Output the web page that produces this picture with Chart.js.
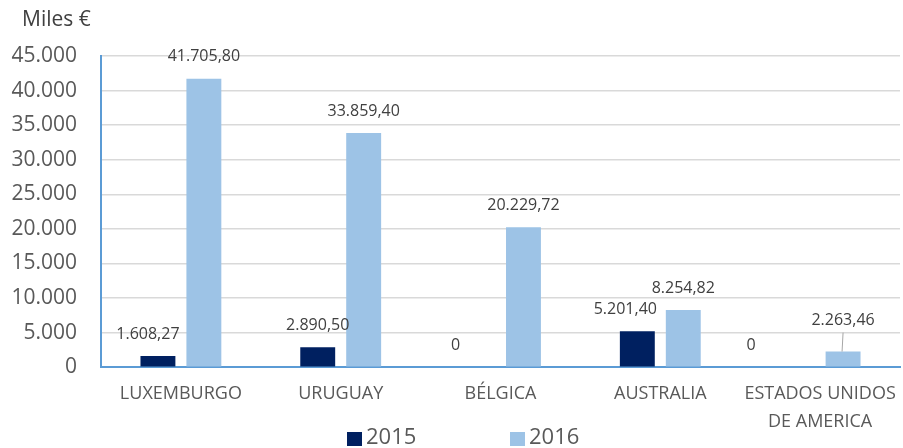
<!DOCTYPE html>
<html><head><meta charset="utf-8">
<script src="https://cdn.jsdelivr.net/npm/chart.js@4.4.1/dist/chart.umd.min.js"></script>
<style>html,body{margin:0;padding:0;background:#fff}#wrap{width:903px;height:448px}</style>
</head><body><div id="wrap"><canvas id="c" width="903" height="448"></canvas></div>
<script>
const categories = ['LUXEMBURGO', 'URUGUAY', 'BÉLGICA', 'AUSTRALIA', ['ESTADOS UNIDOS', 'DE AMERICA']];
const seriesNames = ['2015', '2016'];
const values2015 = [1608.27, 2890.50, 0, 5201.40, 0];
const values2016 = [41705.80, 33859.40, 20229.72, 8254.82, 2263.46];
const yTicks = [0, 5000, 10000, 15000, 20000, 25000, 30000, 35000, 40000, 45000];
const unitLabel = 'Miles €';

const FONT = 'Open Sans';
function fmtThousands(n){ return String(Math.round(n)).replace(/\B(?=(\d{3})+(?!\d))/g, '.'); }
function fmtValue(v){
  if (v === 0) return '0';
  const parts = v.toFixed(2).split('.');
  return parts[0].replace(/\B(?=(\d{3})+(?!\d))/g, '.') + ',' + parts[1];
}

const labelPlugin = {
  id: 'valueLabels',
  afterDatasetsDraw(chart, args, opts) {
    const ctx = chart.ctx;
    ctx.save();
    ctx.font = '16px "' + FONT + '"';
    ctx.fillStyle = '#404040';
    ctx.textAlign = 'center';
    ctx.textBaseline = 'middle';
    chart.data.datasets.forEach((ds, di) => {
      const meta = chart.getDatasetMeta(di);
      meta.data.forEach((el, i) => {
        const nudge = (opts.nudges[di] && opts.nudges[di][i]) || [0, 0];
        const x = el.x + nudge[0];
        const y = el.y - 22 + nudge[1];
        ctx.fillText(fmtValue(ds.data[i]), x, y);
        if (nudge[1] < -5) {
          ctx.strokeStyle = '#a6a6a6';
          ctx.lineWidth = 1;
          ctx.beginPath();
          ctx.moveTo(x, y + 12);
          ctx.lineTo(el.x - 1, el.y);
          ctx.stroke();
        }
      });
    });
    // unit label
    ctx.font = '21px "' + FONT + '"';
    ctx.fillStyle = '#404040';
    ctx.textAlign = 'left';
    ctx.fillText(unitLabel, 22, 20);
    // legend
    ctx.font = '22px "' + FONT + '"';
    const legendX = [347, 510];
    chart.data.datasets.forEach((ds, di) => {
      const x = legendX[di];
      ctx.fillStyle = ds.backgroundColor;
      ctx.fillRect(x, 432, 15, 14);
      ctx.fillStyle = '#595959';
      ctx.fillText(ds.label, x + 19, 438);
    });
    ctx.restore();
  }
};

new Chart(document.getElementById('c'), {
  type: 'bar',
  data: {
    labels: categories,
    datasets: [
      { label: seriesNames[0], data: values2015, backgroundColor: '#002060', borderWidth: 0 },
      { label: seriesNames[1], data: values2016, backgroundColor: '#9DC3E6', borderWidth: 0 }
    ]
  },
  options: {
    responsive: false,
    animation: false,
    events: [],
    categoryPercentage: 0.575,
    barPercentage: 0.76,
    layout: { padding: { top: 56, right: 3, left: 0, bottom: 7 } },
    plugins: {
      legend: { display: false },
      tooltip: { enabled: false },
      valueLabels: { nudges: [[[-10, 0], [0, 0], [-22, 0], [-12, 0], [-46, 0]], [[0, 0], [0, 0], [0, 0], [0, 0], [0, -9]]] }
    },
    scales: {
      x: {
        grid: { display: false },
        border: { display: true, color: '#5B9BD5', width: 2 },
        ticks: { color: '#595959', font: { family: FONT, size: 18, lineHeight: 1.55 }, padding: 5, maxRotation: 0, autoSkip: false }
      },
      y: {
        min: 0, max: 45000,
        afterBuildTicks(scale) { scale.ticks = yTicks.map(v => ({ value: v })); },
        afterFit(scale) { scale.width = 101; },
        grid: { color: '#d9d9d9', lineWidth: 1.5, drawTicks: false },
        border: { display: true, color: '#5B9BD5', width: 2 },
        ticks: { color: '#595959', padding: 24, autoSkip: false, font: { family: FONT, size: 21 }, callback: v => fmtThousands(v) }
      }
    }
  },
  plugins: [labelPlugin]
});
</script></body></html>
